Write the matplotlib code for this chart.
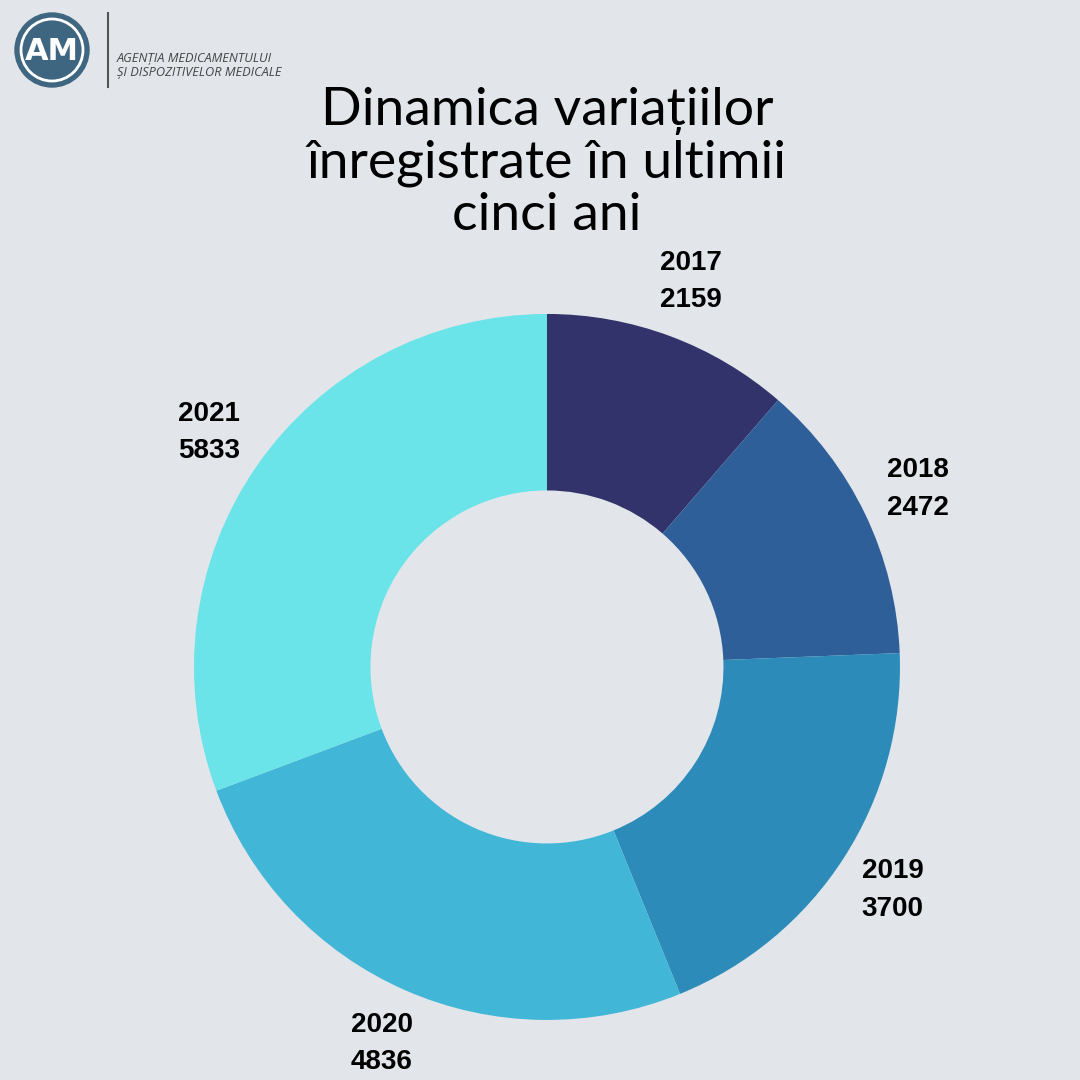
import numpy as np
import matplotlib.pyplot as plt
from matplotlib.patches import Circle

years = ['2017', '2018', '2019', '2020', '2021']
counts = [2159, 2472, 3700, 4836, 5833]
colors = ['#32336b', '#2e5f98', '#2d8bba', '#42b6d6', '#6ae4e8']
title = 'Dinamica variațiilor\nînregistrate în ultimii\ncinci ani'
org_lines = 'AGENȚIA MEDICAMENTULUI\nȘI DISPOZITIVELOR MEDICALE'

bg = '#e2e6eb'
fig = plt.figure(figsize=(10.8, 10.8), dpi=100, facecolor=bg)

# donut
ax = fig.add_axes([0.1796, 0.0556, 0.6537, 0.6537])
ax.set_facecolor(bg)
wedges, _ = ax.pie(counts, colors=colors, startangle=90, counterclock=False,
                   radius=1.0, wedgeprops=dict(width=0.5, linewidth=0))
ax.set_xlim(-1, 1)
ax.set_ylim(-1, 1)
ax.set_aspect('equal')
ax.axis('off')

# labels at the middle angle of each wedge
for w, yr, n in zip(wedges, years, counts):
    ang = np.deg2rad((w.theta1 + w.theta2) / 2)
    r = 1.165
    ax.text(r * np.cos(ang), r * np.sin(ang), f'{yr}\n{n}',
            ha='center', va='center', fontsize=20, fontweight='bold',
            family='Liberation Sans', linespacing=1.58, color='black',
            clip_on=False)

# title
fig.text(0.5065, 0.849, title, ha='center', va='center', fontsize=38.5,
         family='Lato', linespacing=1.12, color='black')

# logo
lax = fig.add_axes([0, 0.9, 0.1, 0.1])
lax.set_xlim(0, 108)
lax.set_ylim(0, 108)
lax.set_aspect('equal')
lax.axis('off')
lax.add_patch(Circle((52, 58), 37, color='#3f6680'))
lax.add_patch(Circle((52, 58), 31, fill=False, ec='white', lw=2))
lax.text(52, 56, 'AM', ha='center', va='center', color='white',
         fontsize=22, fontweight='bold', family='DejaVu Sans')
fig.add_artist(plt.Line2D([108 / 1080, 108 / 1080], [1 - 13 / 1080, 1 - 87 / 1080],
                          color='#555555', lw=1.5))
fig.text(117 / 1080, 1 - 65.5 / 1080, org_lines, ha='left', va='center',
         fontsize=9.2, style='italic', family='Open Sans', color='#444444',
         linespacing=1.15)

fig.savefig('out.png', dpi=100, facecolor=bg)
